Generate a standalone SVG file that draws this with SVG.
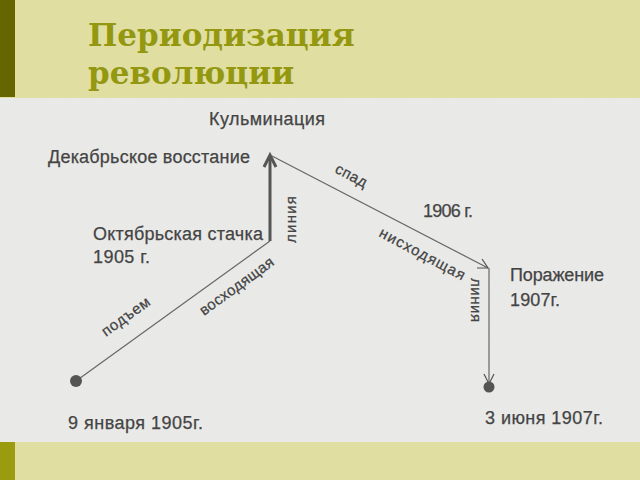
<svg xmlns="http://www.w3.org/2000/svg" width="640" height="480" viewBox="0 0 640 480">
<defs>
<style>
.t{font-family:"Liberation Sans",Arial,sans-serif;font-size:18px;fill:#444;stroke:#444;stroke-width:0.25;}
.s{font-family:"Liberation Sans",Arial,sans-serif;font-size:15px;fill:#444;stroke:#444;stroke-width:0.25;}
.ttl{font-family:"DejaVu Serif",serif;font-weight:bold;font-size:31px;fill:#939810;}
.ln{stroke:#666;stroke-width:1.2;fill:none;}
.ah{stroke:#555;stroke-width:1.2;fill:none;}
</style>
<filter id="grain" x="0" y="0" width="100%" height="100%">
<feTurbulence type="fractalNoise" baseFrequency="0.9" numOctaves="2" seed="3"/>
<feColorMatrix values="0 0 0 0 0.5  0 0 0 0 0.5  0 0 0 0 0.5  0 0 0 0.08 0"/>
</filter>
</defs>
<rect x="0" y="0" width="640" height="480" fill="#e0dea0"/>
<rect x="0" y="0" width="15" height="97" fill="#666600"/>
<rect x="0" y="442" width="15" height="38" fill="#9a9b0f"/>
<g id="title">
<text class="ttl" x="88" y="46">Периодизация</text>
<text class="ttl" x="88" y="84">революции</text>
</g>
<g id="scan">
<rect x="0" y="98" width="640" height="344" fill="#ebebe9"/>
<rect x="0" y="98" width="640" height="344" filter="url(#grain)"/>
</g>
<g id="connectors">
<line x1="270" y1="241" x2="270" y2="156" stroke="#555" stroke-width="3"/>
<polyline points="264,167 270,155 276,167" fill="none" stroke="#555" stroke-width="3"/>
<line class="ln" x1="272" y1="156" x2="488" y2="268"/>
<polyline class="ah" points="477,268 488,268 482,259"/>
<line class="ln" x1="489" y1="268" x2="489" y2="383"/>
<polyline class="ah" points="484,374 489,384 494,374"/>
<line class="ln" x1="76" y1="381" x2="270" y2="241" stroke="#777"/>
</g>
<g id="n-start">
<circle cx="76" cy="381" r="6" fill="#555"/>
<text class="t" x="68" y="429" textLength="135">9 января 1905г.</text>
</g>
<g id="n-oct">
<text class="t" x="93" y="240" textLength="170">Октябрьская стачка</text>
<text class="t" x="93" y="263" textLength="57">1905 г.</text>
</g>
<g id="n-dec">
<text class="t" x="48" y="163" textLength="202">Декабрьское восстание</text>
</g>
<g id="n-kulm">
<text class="t" x="209" y="125" textLength="116">Кульминация</text>
</g>
<g id="n-1906">
<text class="t" x="423" y="217" textLength="50">1906 г.</text>
</g>
<g id="n-defeat">
<text class="t" x="510" y="281" textLength="94">Поражение</text>
<text class="t" x="510" y="306" textLength="50">1907г.</text>
</g>
<g id="n-end">
<circle cx="489" cy="387" r="5.5" fill="#555"/>
<text class="t" x="485" y="424" textLength="118">3 июня 1907г.</text>
</g>
<g id="labels">
<text class="s" transform="translate(106,337) rotate(-36)" textLength="56">подъем</text>
<text class="s" transform="translate(204,316) rotate(-36)" textLength="88">восходящая</text>
<text class="s" transform="translate(296,243) rotate(-90)" textLength="47">линия</text>
<text class="s" transform="translate(334,172) rotate(28)" textLength="34">спад</text>
<text class="s" transform="translate(378,236) rotate(28)" textLength="95">нисходящая</text>
<text class="s" transform="translate(471,278) rotate(90)" textLength="44">линия</text>
</g>
</svg>
